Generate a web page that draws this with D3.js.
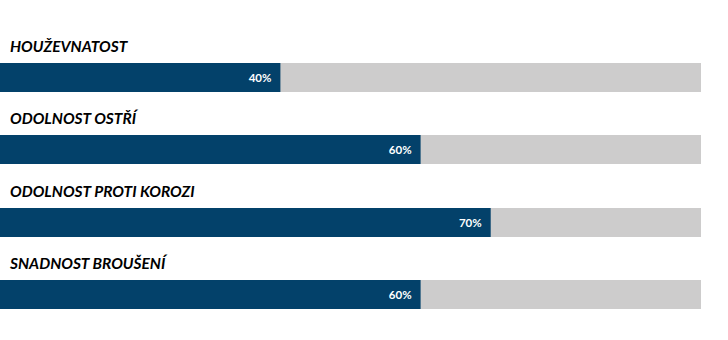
<!DOCTYPE html>
<html>
<head>
<meta charset="utf-8">
<script src="https://cdn.jsdelivr.net/npm/d3@7"></script>
<style>
  html, body { margin: 0; padding: 0; background: #ffffff; }
  svg { display: block; }
</style>
</head>
<body>
<div id="chart"></div>
<script>
// Knife steel properties, share of the maximum score
const categories = ["HOUŽEVNATOST", "ODOLNOST OSTŘÍ", "ODOLNOST PROTI KOROZI", "SNADNOST BROUŠENÍ"];
const values = [40, 60, 70, 60];
const valueLabels = ["40%", "60%", "70%", "60%"];

const width = 728, height = 340;
const svg = d3.select("#chart").append("svg")
  .attr("width", width).attr("height", height);

const x = d3.scaleLinear().domain([0, 100]).range([0, 701]);
const y = d3.scaleBand().domain(categories).range([40, 40 + 4 * 72.3]);

const barTop = 23, barH = 29;
const rows = svg.selectAll("g.row")
  .data(categories.map((c, i) => ({ c, v: values[i], label: valueLabels[i] })))
  .join("g")
  .attr("class", "row")
  .attr("transform", d => `translate(0,${Math.round(y(d.c))})`);

rows.append("text")
  .attr("x", 10)
  .attr("y", barTop - 11)
  .attr("font-family", "Lato, 'Open Sans', sans-serif")
  .attr("font-style", "italic")
  .attr("font-weight", 700)
  .attr("font-size", 15.5)
  .attr("fill", "#000")
  .text(d => d.c);

rows.append("rect")
  .attr("x", x(0)).attr("y", barTop)
  .attr("width", x(100) - x(0)).attr("height", barH)
  .attr("fill", "#cdcccc");

rows.append("rect")
  .attr("x", x(0)).attr("y", barTop)
  .attr("width", d => x(d.v) - x(0)).attr("height", barH)
  .attr("fill", "#03416a");

rows.append("text")
  .attr("x", d => x(d.v) - 9)
  .attr("y", barTop + barH / 2)
  .attr("dy", "0.35em")
  .attr("text-anchor", "end")
  .attr("font-family", "Lato, 'Open Sans', sans-serif")
  .attr("font-weight", 700)
  .attr("font-size", 11.5)
  .attr("fill", "#ffffff")
  .text(d => d.label);
</script>
</body>
</html>
